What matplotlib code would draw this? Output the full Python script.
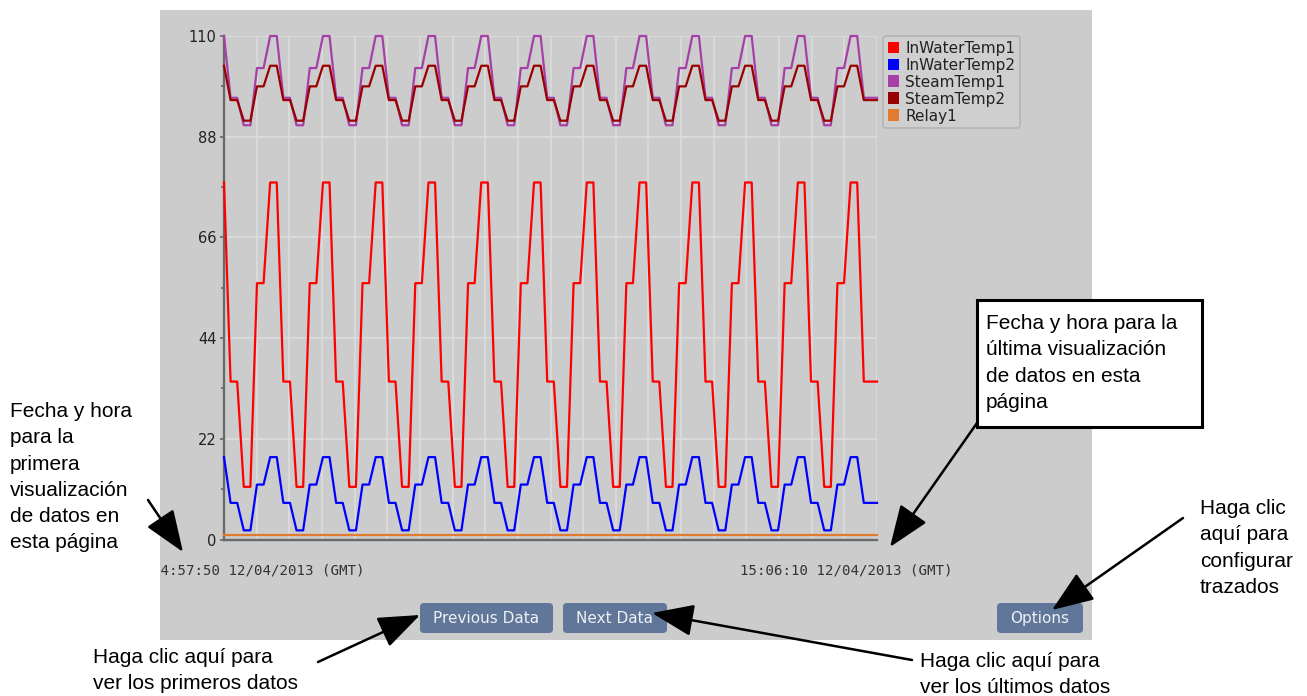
import matplotlib
matplotlib.use("Agg")
import matplotlib.pyplot as plt
import matplotlib.patches as mpatches
import numpy as np

# ---- data: one sample every ~5 s, 100 samples per page ----
in_water_temp1 = [
    78,
    34.5, 34.5, 11.5, 11.5, 56, 56, 78, 78,
    34.5, 34.5, 11.5, 11.5, 56, 56, 78, 78,
    34.5, 34.5, 11.5, 11.5, 56, 56, 78, 78,
    34.5, 34.5, 11.5, 11.5, 56, 56, 78, 78,
    34.5, 34.5, 11.5, 11.5, 56, 56, 78, 78,
    34.5, 34.5, 11.5, 11.5, 56, 56, 78, 78,
    34.5, 34.5, 11.5, 11.5, 56, 56, 78, 78,
    34.5, 34.5, 11.5, 11.5, 56, 56, 78, 78,
    34.5, 34.5, 11.5, 11.5, 56, 56, 78, 78,
    34.5, 34.5, 11.5, 11.5, 56, 56, 78, 78,
    34.5, 34.5, 11.5, 11.5, 56, 56, 78, 78,
    34.5, 34.5, 11.5, 11.5, 56, 56, 78, 78,
    34.5, 34.5, 34.5,
]
in_water_temp2 = [
    18,
    8, 8, 2, 2, 12, 12, 18, 18,
    8, 8, 2, 2, 12, 12, 18, 18,
    8, 8, 2, 2, 12, 12, 18, 18,
    8, 8, 2, 2, 12, 12, 18, 18,
    8, 8, 2, 2, 12, 12, 18, 18,
    8, 8, 2, 2, 12, 12, 18, 18,
    8, 8, 2, 2, 12, 12, 18, 18,
    8, 8, 2, 2, 12, 12, 18, 18,
    8, 8, 2, 2, 12, 12, 18, 18,
    8, 8, 2, 2, 12, 12, 18, 18,
    8, 8, 2, 2, 12, 12, 18, 18,
    8, 8, 2, 2, 12, 12, 18, 18,
    8, 8, 8,
]
steam_temp1 = [
    110,
    96.5, 96.5, 90.5, 90.5, 103, 103, 110, 110,
    96.5, 96.5, 90.5, 90.5, 103, 103, 110, 110,
    96.5, 96.5, 90.5, 90.5, 103, 103, 110, 110,
    96.5, 96.5, 90.5, 90.5, 103, 103, 110, 110,
    96.5, 96.5, 90.5, 90.5, 103, 103, 110, 110,
    96.5, 96.5, 90.5, 90.5, 103, 103, 110, 110,
    96.5, 96.5, 90.5, 90.5, 103, 103, 110, 110,
    96.5, 96.5, 90.5, 90.5, 103, 103, 110, 110,
    96.5, 96.5, 90.5, 90.5, 103, 103, 110, 110,
    96.5, 96.5, 90.5, 90.5, 103, 103, 110, 110,
    96.5, 96.5, 90.5, 90.5, 103, 103, 110, 110,
    96.5, 96.5, 90.5, 90.5, 103, 103, 110, 110,
    96.5, 96.5, 96.5,
]
steam_temp2 = [
    103.5,
    96, 96, 91.5, 91.5, 99, 99, 103.5, 103.5,
    96, 96, 91.5, 91.5, 99, 99, 103.5, 103.5,
    96, 96, 91.5, 91.5, 99, 99, 103.5, 103.5,
    96, 96, 91.5, 91.5, 99, 99, 103.5, 103.5,
    96, 96, 91.5, 91.5, 99, 99, 103.5, 103.5,
    96, 96, 91.5, 91.5, 99, 99, 103.5, 103.5,
    96, 96, 91.5, 91.5, 99, 99, 103.5, 103.5,
    96, 96, 91.5, 91.5, 99, 99, 103.5, 103.5,
    96, 96, 91.5, 91.5, 99, 99, 103.5, 103.5,
    96, 96, 91.5, 91.5, 99, 99, 103.5, 103.5,
    96, 96, 91.5, 91.5, 99, 99, 103.5, 103.5,
    96, 96, 91.5, 91.5, 99, 99, 103.5, 103.5,
    96, 96, 96,
]
relay1 = [
    1, 1, 1, 1, 1, 1, 1, 1, 1, 1, 1, 1, 1, 1, 1, 1, 1, 1, 1, 1,
    1, 1, 1, 1, 1, 1, 1, 1, 1, 1, 1, 1, 1, 1, 1, 1, 1, 1, 1, 1,
    1, 1, 1, 1, 1, 1, 1, 1, 1, 1, 1, 1, 1, 1, 1, 1, 1, 1, 1, 1,
    1, 1, 1, 1, 1, 1, 1, 1, 1, 1, 1, 1, 1, 1, 1, 1, 1, 1, 1, 1,
    1, 1, 1, 1, 1, 1, 1, 1, 1, 1, 1, 1, 1, 1, 1, 1, 1, 1, 1, 1,
]

series_names = ["InWaterTemp1", "InWaterTemp2", "SteamTemp1", "SteamTemp2", "Relay1"]
series_values = [in_water_temp1, in_water_temp2, steam_temp1, steam_temp2, relay1]
series_colors = ["#ff0000", "#0000ff", "#a63fa6", "#990000", "#e07b2f"]

y_major = [0, 22, 44, 66, 88, 110]
y_minor = [11, 33, 55, 77, 99]
start_label = "14:57:50 12/04/2013 (GMT)"
end_label = "15:06:10 12/04/2013 (GMT)"
buttons = ["Previous Data", "Next Data", "Options"]

# ---- figure ----
W, H = 1307, 696
fig = plt.figure(figsize=(W / 100, H / 100), dpi=100)
fig.patch.set_facecolor("white")

PANEL = "#cccccc"
# grey application panel (pixel coordinates, y downwards)
pan = fig.add_axes([160 / W, 1 - 640 / H, 932 / W, 630 / H], zorder=0)
pan.set_facecolor(PANEL)
pan.set_xlim(160, 1092)
pan.set_ylim(640, 10)
pan.set_xticks([])
pan.set_yticks([])
for s in pan.spines.values():
    s.set_visible(False)

# chart
ax = fig.add_axes([224 / W, 1 - 539.5 / H, 653 / W, 503.5 / H], zorder=1)
ax.set_facecolor("none")
n = len(in_water_temp1)
x = np.arange(n)
for name, vals, col in zip(series_names, series_values, series_colors):
    ax.plot(x, vals, color=col, lw=1.6, label=name, clip_on=False, zorder=3)

ax.set_xlim(0, n - 1)
ax.set_ylim(0, 110)
ax.set_yticks(y_major)
ax.set_yticks(y_minor, minor=True)
ax.set_yticklabels([str(v) for v in y_major], fontsize=10.5, color="#222222",
                   family="DejaVu Sans")
ax.set_xticks(np.linspace(0, n - 1, 21))
ax.set_xticklabels([])
ax.tick_params(axis="x", length=0)
ax.tick_params(axis="y", which="major", length=3.2, width=1.2, color="#666666", pad=2)
ax.tick_params(axis="y", which="minor", length=2.2, width=1.2, color="#666666")
ax.grid(True, which="major", color="#dcdcdc", lw=1.2, zorder=0)
ax.set_axisbelow(True)
for side in ("top", "right"):
    ax.spines[side].set_visible(False)
for side in ("left", "bottom"):
    ax.spines[side].set_color("#6a6a6a")
    ax.spines[side].set_linewidth(1.7)

handles = [mpatches.Patch(facecolor=c, edgecolor="none", label=nm)
           for nm, c in zip(series_names, series_colors)]
leg = ax.legend(handles=handles, loc="upper left",
                bbox_to_anchor=(883 / W, 1 - 36 / H), bbox_transform=fig.transFigure,
                borderaxespad=0, borderpad=0.3, handlelength=0.72, handleheight=0.78,
                handletextpad=0.45, labelspacing=0.13, fontsize=11,
                frameon=True, fancybox=True, framealpha=1)
leg.get_frame().set_facecolor("#cfcfcf")
leg.get_frame().set_edgecolor("#b5b5b5")
leg.get_frame().set_linewidth(1.2)
for t in leg.get_texts():
    t.set_color("#222222")

# time stamps of the first and last sample on the page
pan.text(151.5, 571, start_label, family="DejaVu Sans Mono", fontsize=10.2,
         color="#333333", ha="left", va="center", clip_on=True)
pan.text(740, 571, end_label, family="DejaVu Sans Mono", fontsize=10.2,
         color="#333333", ha="left", va="center", clip_on=True)

# navigation buttons
btn_boxes = [(420, 603, 133, 30), (563, 603, 104, 30), (997, 603, 86, 30)]
for label, (bx, by, bw, bh) in zip(buttons, btn_boxes):
    pan.add_patch(mpatches.FancyBboxPatch((bx, by), bw, bh,
                                          boxstyle="round,pad=0,rounding_size=4",
                                          fc="#60779a", ec="none"))
    pan.text(bx + bw / 2, by + bh / 2 + 0.5, label, ha="center", va="center",
             color="#eef0f4", fontsize=11, family="DejaVu Sans")

# ---- callouts ----
ov = fig.add_axes([0, 0, 1, 1], zorder=2)
ov.set_xlim(0, W)
ov.set_ylim(H, 0)
ov.axis("off")

ov.add_patch(mpatches.Rectangle((977, 300), 225, 127, fc="white", ec="black", lw=2.2))

FONT = dict(family="Liberation Sans", fontsize=15, color="black", ha="left", va="baseline")
callouts = [
    (10, 417, ["Fecha y hora", "para la", "primera", "visualización", "de datos en",
               "esta página"]),
    (986, 329, ["Fecha y hora para la", "última visualización", "de datos en esta",
                "página"]),
    (1200, 514, ["Haga clic", "aquí para", "configurar", "trazados"]),
    (93, 663, ["Haga clic aquí para", "ver los primeros datos"]),
    (920, 667, ["Haga clic aquí para", "ver los últimos datos"]),
]
for tx, ty, lines in callouts:
    for i, line in enumerate(lines):
        ov.text(tx, ty + i * 26.3, line, **FONT)

arrows = [
    ((148, 500), (183, 552)),
    ((977, 423), (890, 547)),
    ((1183, 518), (1052, 610)),
    ((318, 662), (420, 615)),
    ((912, 660), (652, 613)),
]
for tail, tip in arrows:
    ov.annotate("", xy=tip, xytext=tail,
                arrowprops=dict(arrowstyle="-|>,head_length=2.6,head_width=1.0",
                                mutation_scale=10, lw=1.8, color="black",
                                shrinkA=0, shrinkB=0))

fig.savefig("out.png", dpi=100, facecolor="white")
